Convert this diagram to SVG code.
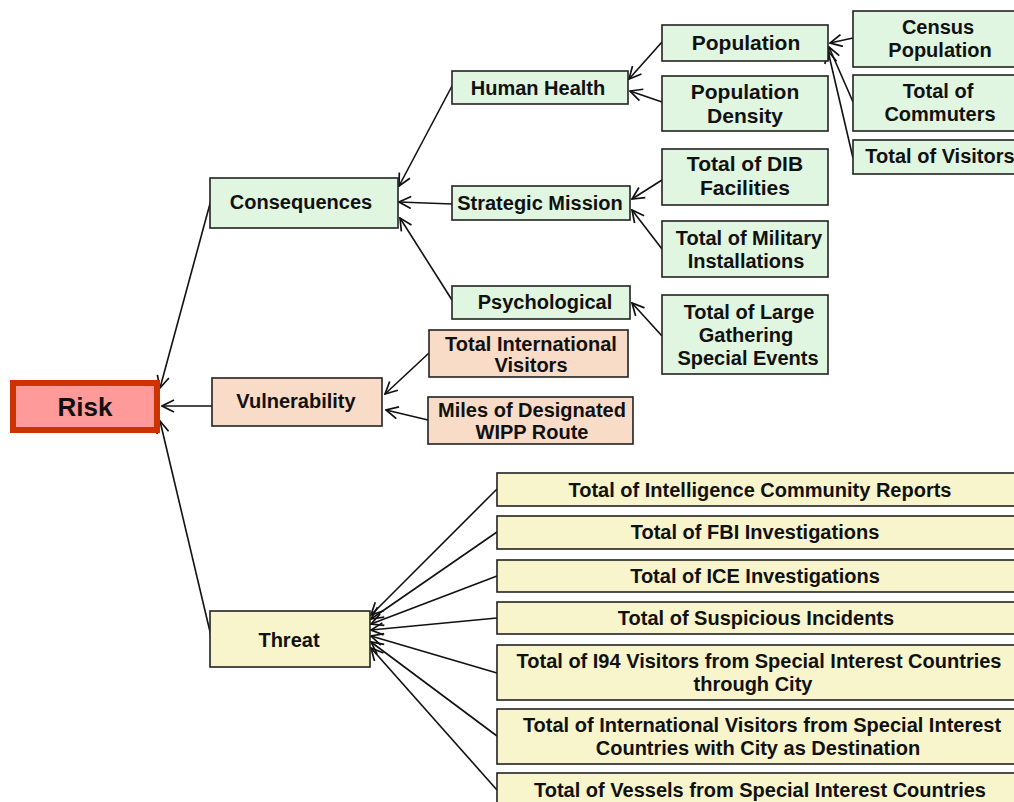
<svg xmlns="http://www.w3.org/2000/svg" width="1014" height="802" viewBox="0 0 1014 802">
<defs>
<marker id="arr" viewBox="0 0 14 14" refX="13" refY="7" markerWidth="14" markerHeight="14" markerUnits="userSpaceOnUse" orient="auto-start-reverse">
<path d="M1,1 L13,7 L1,13" fill="none" stroke="#111" stroke-width="1.7"/>
</marker>
</defs>
<style>
.g{fill:#e0f6e0;stroke:#222;stroke-width:1.6}
.p{fill:#f8dcc8;stroke:#222;stroke-width:1.6}
.y{fill:#f8f5cc;stroke:#222;stroke-width:1.6}
text{font-family:"Liberation Sans",Arial,sans-serif;font-weight:bold;fill:#111;text-anchor:middle}
.t20{font-size:20px}
.t22{font-size:21px}
.c line{stroke:#111;stroke-width:1.6}
</style>
<rect width="1014" height="802" fill="#fff"/>
<g class="c" id="connectors">
<line x1="160" y1="388" x2="211" y2="200" marker-start="url(#arr)"/>
<line x1="162" y1="406" x2="212" y2="406" marker-start="url(#arr)"/>
<line x1="160" y1="421" x2="211" y2="636" marker-start="url(#arr)"/>
<line x1="399" y1="186" x2="452" y2="86" marker-start="url(#arr)"/>
<line x1="399" y1="202" x2="452" y2="204" marker-start="url(#arr)"/>
<line x1="400" y1="218" x2="452" y2="300" marker-start="url(#arr)"/>
<line x1="629" y1="79" x2="662" y2="42" marker-start="url(#arr)"/>
<line x1="630" y1="91" x2="662" y2="102" marker-start="url(#arr)"/>
<line x1="830" y1="43" x2="853" y2="38" marker-start="url(#arr)"/>
<line x1="829" y1="47" x2="853" y2="102" marker-start="url(#arr)"/>
<line x1="828" y1="51" x2="853" y2="158" marker-start="url(#arr)"/>
<line x1="632" y1="199" x2="662" y2="180" marker-start="url(#arr)"/>
<line x1="632" y1="210" x2="662" y2="249" marker-start="url(#arr)"/>
<line x1="632" y1="303" x2="662" y2="336" marker-start="url(#arr)"/>
<line x1="385" y1="394" x2="429" y2="353" marker-start="url(#arr)"/>
<line x1="386" y1="410" x2="428" y2="420" marker-start="url(#arr)"/>
<line x1="371" y1="615" x2="497" y2="489" marker-start="url(#arr)"/>
<line x1="371" y1="619" x2="497" y2="532" marker-start="url(#arr)"/>
<line x1="371" y1="624" x2="497" y2="576" marker-start="url(#arr)"/>
<line x1="371" y1="630" x2="497" y2="618" marker-start="url(#arr)"/>
<line x1="371" y1="636" x2="497" y2="673" marker-start="url(#arr)"/>
<line x1="371" y1="642" x2="497" y2="736" marker-start="url(#arr)"/>
<line x1="371" y1="648" x2="497" y2="790" marker-start="url(#arr)"/>
</g>
<g id="risk"><rect x="13" y="383" width="144" height="47" fill="#ff9a9a" stroke="#cc3300" stroke-width="6"/><text x="85" y="416" font-size="26px">Risk</text></g>
<g id="consequences"><rect class="g" x="210" y="178" width="188" height="50"/><text class="t20" x="301" y="209">Consequences</text></g>
<g id="vulnerability"><rect class="p" x="212" y="378" width="170" height="48"/><text class="t20" x="296" y="408">Vulnerability</text></g>
<g id="threat"><rect class="y" x="210" y="611" width="160" height="56"/><text class="t20" x="289" y="647">Threat</text></g>
<g id="humanhealth"><rect class="g" x="452" y="71" width="176" height="33"/><text class="t20" x="538" y="95">Human Health</text></g>
<g id="strategic"><rect class="g" x="452" y="186" width="178" height="34"/><text class="t20" x="540" y="210">Strategic Mission</text></g>
<g id="psychological"><rect class="g" x="452" y="286" width="178" height="33"/><text class="t20" x="545" y="309">Psychological</text></g>
<g id="population"><rect class="g" x="662" y="25" width="166" height="36"/><text class="t22" x="746" y="50">Population</text></g>
<g id="popdensity"><rect class="g" x="662" y="76" width="166" height="55"/><text class="t22" x="745" y="99">Population</text><text class="t22" x="745" y="123">Density</text></g>
<g id="dib"><rect class="g" x="662" y="149" width="166" height="56"/><text class="t22" x="745" y="171">Total of DIB</text><text class="t22" x="745" y="195">Facilities</text></g>
<g id="military"><rect class="g" x="662" y="221" width="166" height="56"/><text class="t20" x="749" y="245">Total of Military</text><text class="t20" x="746" y="268">Installations</text></g>
<g id="large"><rect class="g" x="662" y="295" width="166" height="79"/><text class="t20" x="749" y="319">Total of Large</text><text class="t20" x="746" y="342">Gathering</text><text class="t20" x="748" y="365">Special Events</text></g>
<g id="census"><rect class="g" x="853" y="11" width="170" height="56"/><text class="t20" x="938" y="34">Census</text><text class="t20" x="940" y="57">Population</text></g>
<g id="commuters"><rect class="g" x="853" y="75" width="170" height="56"/><text class="t20" x="938" y="98">Total of</text><text class="t20" x="940" y="121">Commuters</text></g>
<g id="visitors"><rect class="g" x="853" y="140" width="170" height="34"/><text class="t20" x="940" y="163">Total of Visitors</text></g>
<g id="intlvisitors"><rect class="p" x="429" y="330" width="199" height="47"/><text class="t20" x="531" y="351">Total International</text><text class="t20" x="531" y="372">Visitors</text></g>
<g id="wipp"><rect class="p" x="428" y="397" width="205" height="47"/><text class="t20" x="532" y="417">Miles of Designated</text><text class="t20" x="532" y="439">WIPP Route</text></g>
<g id="ic"><rect class="y" x="497" y="473" width="530" height="33"/><text class="t20" x="760" y="497">Total of Intelligence Community Reports</text></g>
<g id="fbi"><rect class="y" x="497" y="516" width="530" height="33"/><text class="t20" x="755" y="539">Total of FBI Investigations</text></g>
<g id="ice"><rect class="y" x="497" y="560" width="530" height="32"/><text class="t20" x="755" y="583">Total of ICE Investigations</text></g>
<g id="suspicious"><rect class="y" x="497" y="602" width="530" height="32"/><text class="t20" x="756" y="625">Total of Suspicious Incidents</text></g>
<g id="i94"><rect class="y" x="497" y="645" width="530" height="55"/><text class="t20" x="759" y="668">Total of I94 Visitors from Special Interest Countries</text><text class="t20" x="753" y="691">through City</text></g>
<g id="intlsic"><rect class="y" x="497" y="709" width="530" height="55"/><text class="t20" x="762" y="732">Total of International Visitors from Special Interest</text><text class="t20" x="758" y="755">Countries with City as Destination</text></g>
<g id="vessels"><rect class="y" x="497" y="773" width="530" height="40"/><text class="t20" x="760" y="797">Total of Vessels from Special Interest Countries</text></g>
</svg>
